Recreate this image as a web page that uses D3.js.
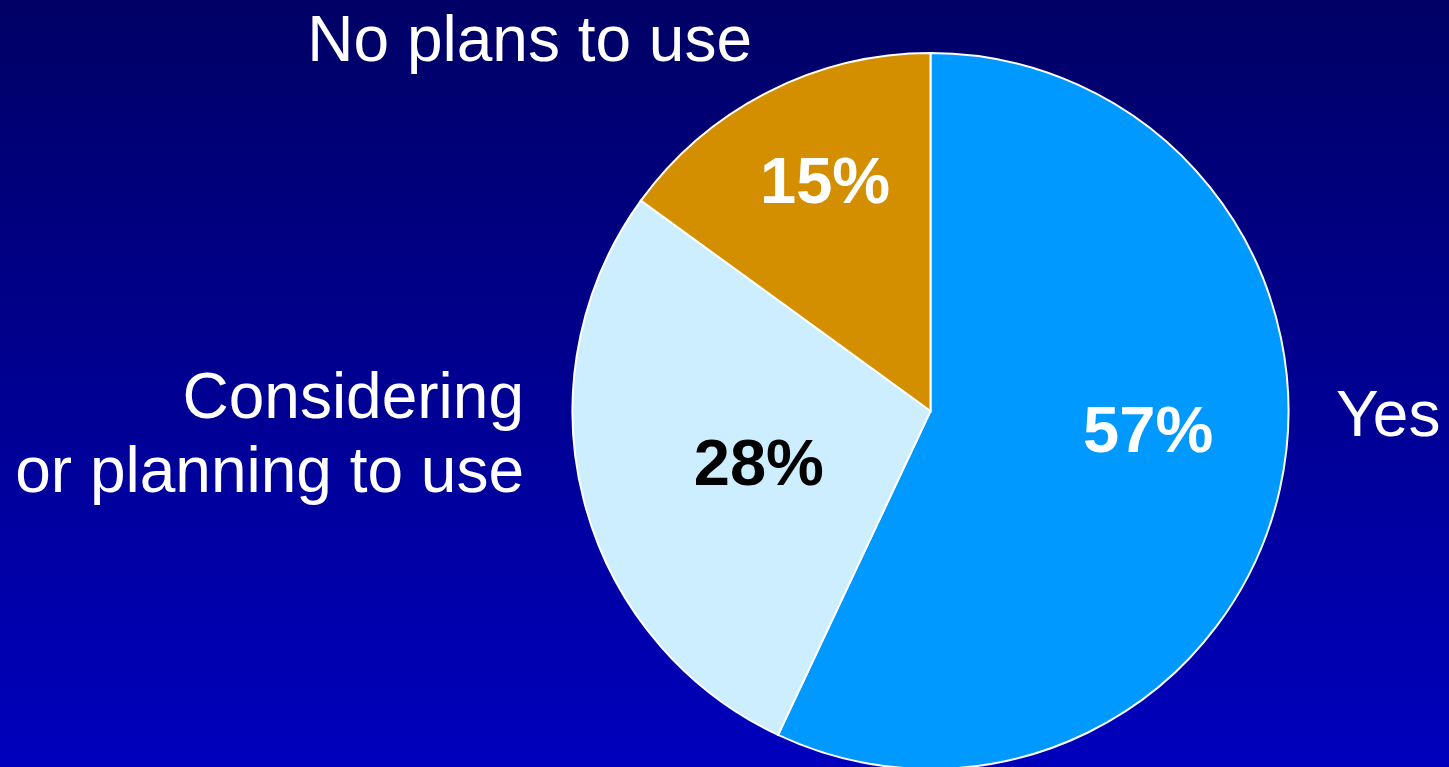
<!DOCTYPE html>
<meta charset="utf-8">
<style>
  body { margin: 0; overflow: hidden; }
  text { font-family: "Liberation Sans", Arial, sans-serif; }
</style>
<svg width="1449" height="767"></svg>
<script src="https://d3js.org/d3.v7.min.js"></script>
<script>

var categories = ["Yes", "Considering or planning to use", "No plans to use"];
var values = [57, 28, 15];
var pctLabels = ["57%", "28%", "15%"];

var svg = d3.select("svg"),
    width = +svg.attr("width"),
    height = +svg.attr("height");

// background gradient
var grad = svg.append("defs").append("linearGradient")
    .attr("id", "bg").attr("x1", 0).attr("y1", 0).attr("x2", 0).attr("y2", 1);
grad.append("stop").attr("offset", "0%").attr("stop-color", "#000066");
grad.append("stop").attr("offset", "100%").attr("stop-color", "#0000bd");
svg.append("rect").attr("width", width).attr("height", height).attr("fill", "url(#bg)");

var cx = 930.5, cy = 411, r = 358;
var colors = ["#0099ff", "#cceeff", "#d48f00"];
var pctColors = ["#ffffff", "#000000", "#ffffff"];
// label placement: radius fraction and angle tweak (degrees)
var labelR = [0.61, 0.5, 0.71];
var labelDA = [-8, -2, 2.5];

var pie = d3.pie().sort(null).value(function(d) { return d; });
var arc = d3.arc().innerRadius(0).outerRadius(r);
var arcs = pie(values);

var g = svg.append("g").attr("transform", "translate(" + cx + "," + cy + ")");

g.selectAll("path")
  .data(arcs)
  .enter().append("path")
    .attr("d", arc)
    .attr("fill", function(d, i) { return colors[i]; })
    .attr("stroke", "#ffffff")
    .attr("stroke-width", 2);

g.selectAll("text.pct")
  .data(arcs)
  .enter().append("text")
    .attr("class", "pct")
    .attr("x", function(d, i) {
      var a = (d.startAngle + d.endAngle) / 2 + labelDA[i] * Math.PI / 180;
      return Math.sin(a) * r * labelR[i];
    })
    .attr("y", function(d, i) {
      var a = (d.startAngle + d.endAngle) / 2 + labelDA[i] * Math.PI / 180;
      return -Math.cos(a) * r * labelR[i];
    })
    .attr("dy", "0.36em")
    .attr("text-anchor", "middle")
    .attr("font-size", 65)
    .attr("font-weight", "bold")
    .attr("fill", function(d, i) { return pctColors[i]; })
    .text(function(d, i) { return pctLabels[i]; });

// outside category labels
svg.append("text")
    .attr("x", 1336).attr("y", 436)
    .attr("font-size", 64).attr("fill", "#fff")
    .text(categories[0]);

var cons = svg.append("text")
    .attr("x", 524).attr("y", 418)
    .attr("text-anchor", "end")
    .attr("font-size", 64).attr("fill", "#fff");
cons.append("tspan").attr("x", 524).text("Considering");
cons.append("tspan").attr("x", 524).attr("dy", 74).text("or planning to use");

svg.append("text")
    .attr("x", 752).attr("y", 61)
    .attr("text-anchor", "end")
    .attr("font-size", 64).attr("fill", "#fff")
    .text(categories[2]);

</script>
